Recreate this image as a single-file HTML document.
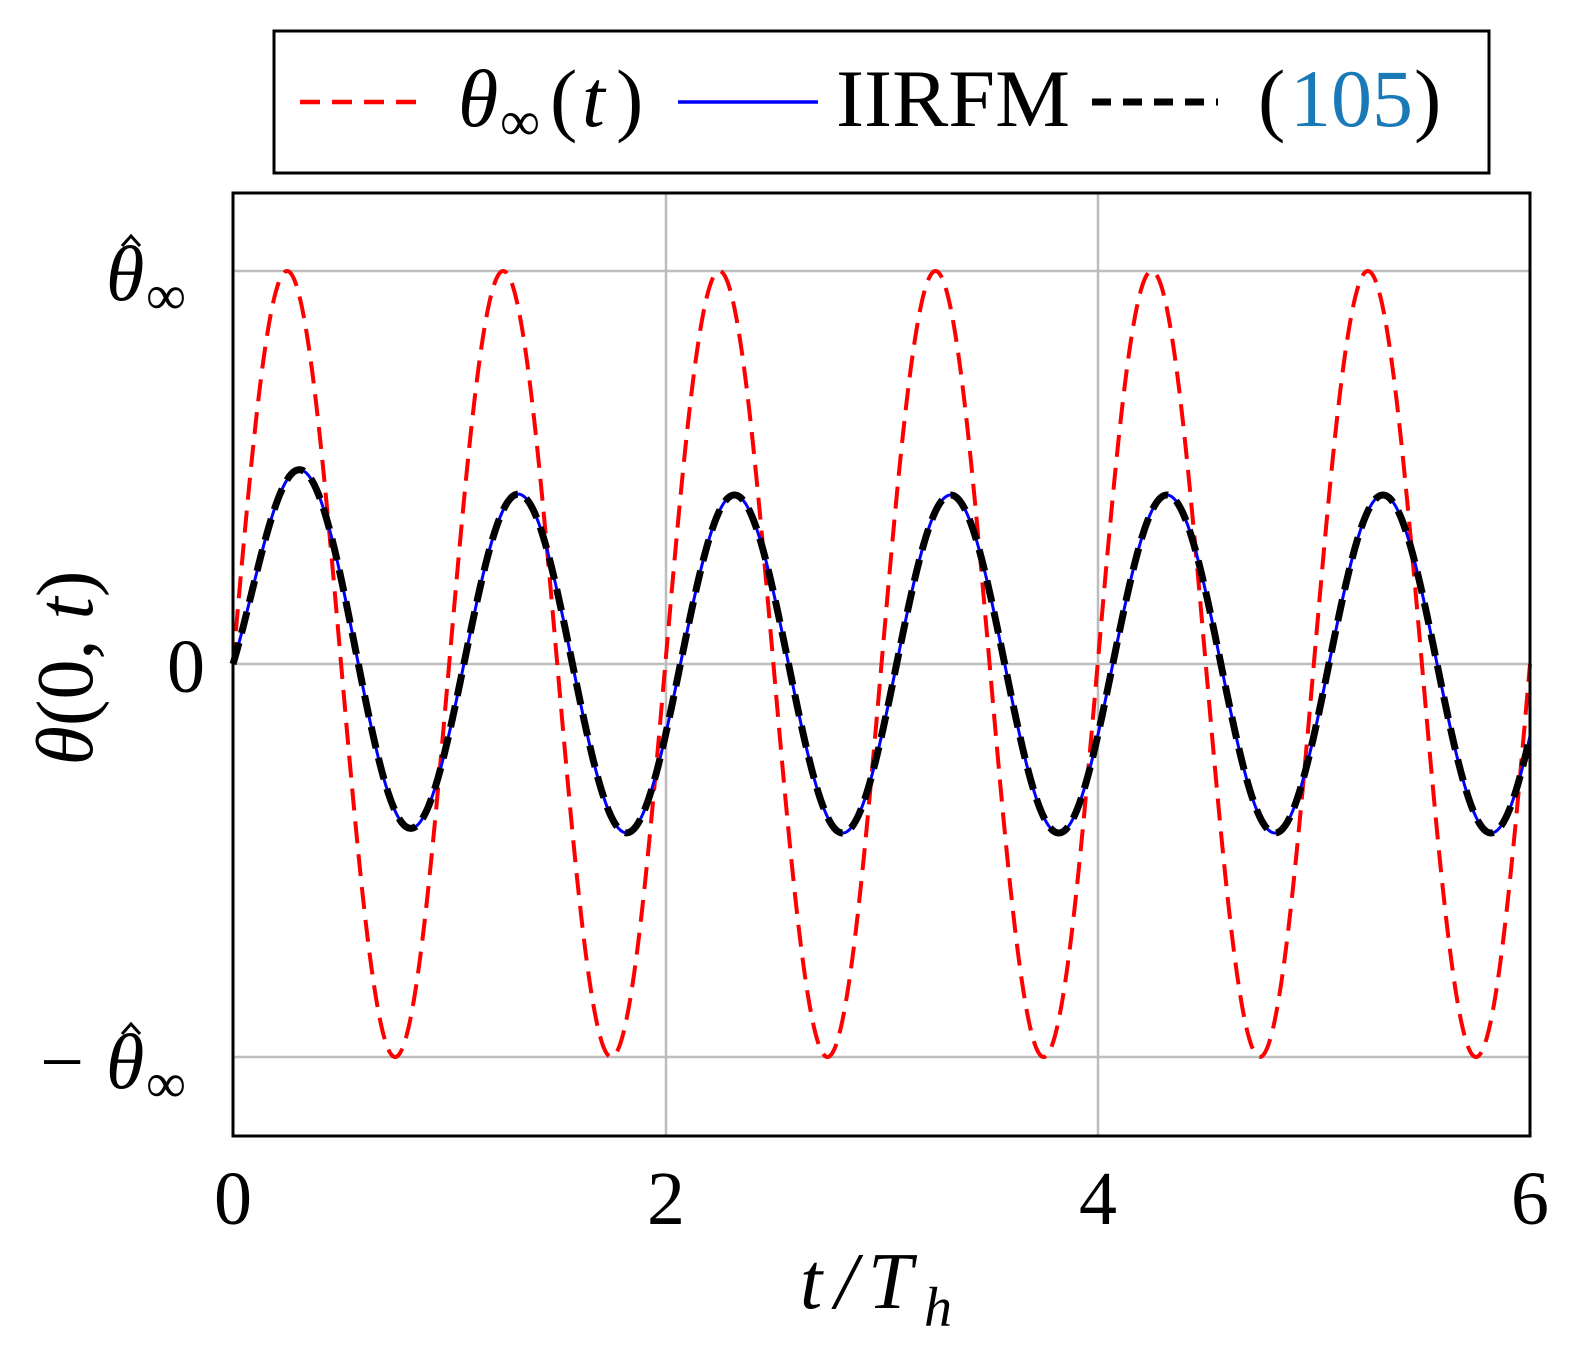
<!DOCTYPE html>
<html><head><meta charset="utf-8"><style>
html,body{margin:0;padding:0;background:#fff;}
svg{display:block;}
text{font-family:"Liberation Serif",serif;}
</style></head><body>
<svg id="s" width="1571" height="1358" viewBox="0 0 1571 1358" xmlns="http://www.w3.org/2000/svg">
<rect x="0" y="0" width="1571" height="1358" fill="#fff"/>
<rect x="274" y="31" width="1215" height="142" fill="#fff" stroke="#000" stroke-width="3"/>
<line x1="300" y1="102" x2="428" y2="102" stroke="#f00" stroke-width="4.5" stroke-dasharray="20,12"/>
<text x="458" y="126" font-size="82" font-style="italic">θ</text>
<text x="500" y="140" font-size="56">∞</text>
<text x="550" y="126" font-size="82">(</text>
<text x="582" y="126" font-size="82" font-style="italic">t</text>
<text x="616" y="126" font-size="82">)</text>
<line x1="678" y1="102" x2="818" y2="102" stroke="#00f" stroke-width="3.5"/>
<text x="836" y="126" font-size="82" textLength="234" lengthAdjust="spacingAndGlyphs">IIRFM</text>
<line x1="1092" y1="102" x2="1218" y2="102" stroke="#000" stroke-width="7" stroke-dasharray="19,12"/>
<text x="1258" y="126" font-size="82">(</text>
<text x="1290" y="126" font-size="82" fill="#1a7ab8">105</text>
<text x="1414" y="126" font-size="82">)</text>
<g stroke="#bdbdbd" stroke-width="2.5">
<line x1="666" y1="193" x2="666" y2="1136"/>
<line x1="1098" y1="193" x2="1098" y2="1136"/>
<line x1="233" y1="271" x2="1530" y2="271"/>
<line x1="233" y1="664" x2="1530" y2="664"/>
<line x1="233" y1="1057" x2="1530" y2="1057"/>
</g>
<path id="red" fill="none" stroke="#f00" stroke-width="4" stroke-dasharray="22,11"/>
<path id="blue" fill="none" stroke="#00f" stroke-width="3"/>
<path id="blk" fill="none" stroke="#000" stroke-width="7" stroke-dasharray="22,10"/>
<rect x="233" y="193" width="1297" height="943" fill="none" stroke="#000" stroke-width="3"/>
<g font-size="76">
<text x="233" y="1224" text-anchor="middle">0</text>
<text x="666" y="1224" text-anchor="middle">2</text>
<text x="1098" y="1224" text-anchor="middle">4</text>
<text x="1530" y="1224" text-anchor="middle">6</text>
<text x="205" y="692" text-anchor="end">0</text>
<text x="106" y="300" font-size="78" font-style="italic">θ</text>
<polyline points="122,246 131,236 140,246" fill="none" stroke="#000" stroke-width="3"/>
<text x="146" y="314" font-size="56">∞</text>
<text x="40" y="1088" font-size="78">−</text>
<text x="106" y="1088" font-size="78" font-style="italic">θ</text>
<polyline points="122,1034 131,1024 140,1034" fill="none" stroke="#000" stroke-width="3"/>
<text x="146" y="1102" font-size="56">∞</text>
</g>
<text x="800" y="1308" font-size="80" font-style="italic">t</text>
<text x="835" y="1308" font-size="80" font-style="italic">/</text>
<text x="868" y="1308" font-size="80" font-style="italic">T</text>
<text x="924" y="1326" font-size="56" font-style="italic">h</text>
<text transform="translate(92,668) rotate(-90)" font-size="80" text-anchor="middle"><tspan font-style="italic">θ</tspan>(0, <tspan font-style="italic">t</tspan>)</text>
</svg>
<script>
(function(){
var x0=233,sx=1297/6,y0=664,A=393;
function P(f){var d="";for(var i=0;i<=1800;i++){var t=6*i/1800;var x=x0+t*sx,y=y0-A*f(t);d+=(i?"L":"M")+x.toFixed(2)+","+y.toFixed(2);}return d;}
var red=P(function(t){return Math.sin(2*Math.PI*t);});
var a=0.43,ph=0.07,c=-a*Math.sin(-2*Math.PI*ph);
var resp=P(function(t){return a*Math.sin(2*Math.PI*(t-ph))+c*Math.exp(-t/0.3);});
document.getElementById("red").setAttribute("d",red);
document.getElementById("blue").setAttribute("d",resp);
document.getElementById("blk").setAttribute("d",resp);
})();
</script>
</body></html>
